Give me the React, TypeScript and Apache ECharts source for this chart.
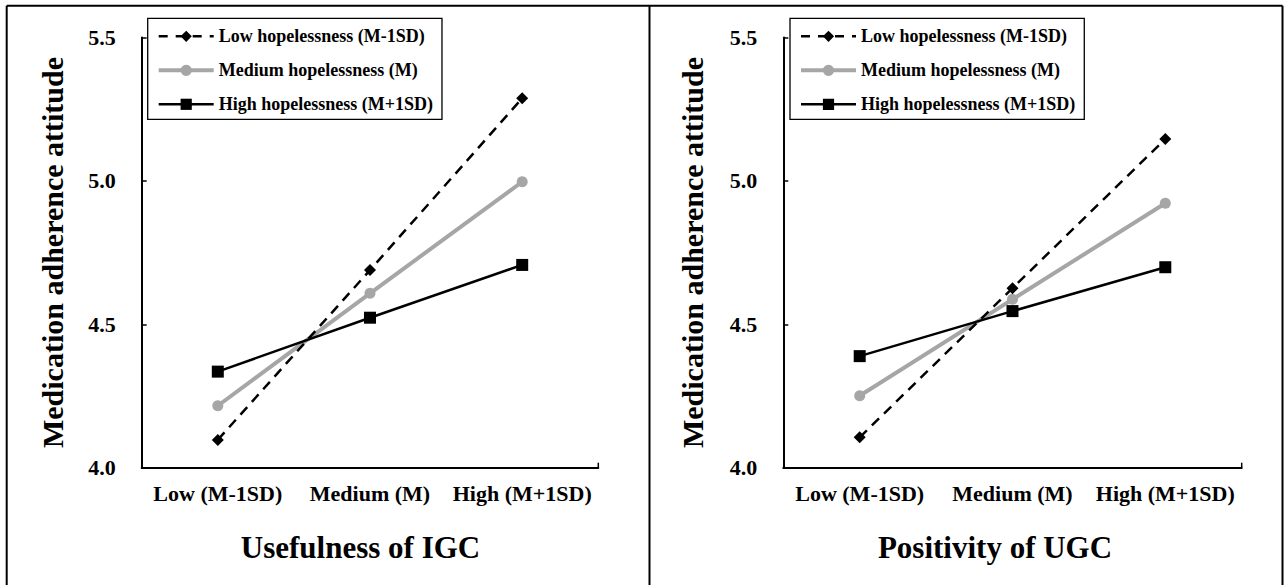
import React, { useEffect, useRef } from "react";
import * as echarts from "echarts";

const categories = ["Low (M-1SD)", "Medium (M)", "High (M+1SD)"];
const seriesNames = [
  "Low hopelessness (M-1SD)",
  "Medium hopelessness (M)",
  "High hopelessness (M+1SD)",
];
const yMin = 4.0;
const yMax = 5.5;
const yStep = 0.5;

// Left panel: Usefulness of IGC
const igcLow = [4.097, 4.689, 5.288];
const igcMedium = [4.216, 4.608, 4.997];
const igcHigh = [4.335, 4.523, 4.707];
// Right panel: Positivity of UGC
const ugcLow = [4.106, 4.626, 5.146];
const ugcMedium = [4.251, 4.587, 4.922];
const ugcHigh = [4.389, 4.546, 4.699];

const xTitles = ["Usefulness of IGC", "Positivity of UGC"];
const yTitle = "Medication adherence attitude";

const FONT = "'Liberation Serif', 'Times New Roman', serif";

export default function App() {
  const ref = useRef<HTMLDivElement>(null);

  useEffect(() => {
    document.body.style.margin = "0";
    if (!ref.current) return;
    const chart = echarts.init(ref.current, null, { renderer: "svg" });

    const grids = [
      { left: 141.7, top: 37.5, width: 456.6, height: 430.2 },
      { left: 783.3, top: 37.5, width: 458.4, height: 430.2 },
    ];

    const xAxes = grids.map((g, i) => ({
      type: "category",
      gridIndex: i,
      data: categories,
      boundaryGap: true,
      axisLine: { lineStyle: { color: "#000", width: 2 } },
      axisTick: { inside: true, length: 5, alignWithLabel: true, lineStyle: { color: "#000", width: 1.5 } },
      axisLabel: {
        color: "#000",
        fontFamily: FONT,
        fontWeight: "bold",
        fontSize: 22,
        margin: 15,
        interval: 0,
      },
      splitLine: { show: false },
    }));

    const yAxes = grids.map((g, i) => ({
      type: "value",
      gridIndex: i,
      min: yMin,
      max: yMax,
      interval: yStep,
      axisLine: { show: true, lineStyle: { color: "#000", width: 2 } },
      axisTick: { show: true, inside: true, length: 5, lineStyle: { color: "#000", width: 1.5 } },
      axisLabel: {
        color: "#000",
        fontFamily: FONT,
        fontWeight: "bold",
        fontSize: 22,
        margin: 26,
        formatter: (v: number) => v.toFixed(1),
      },
      splitLine: { show: false },
    }));

    const panelData = [
      [igcLow, igcMedium, igcHigh],
      [ugcLow, ugcMedium, ugcHigh],
    ];

    const styles = [
      { symbol: "diamond", symbolSize: 12, lineStyle: { color: "#000", width: 2.5, type: [10, 7] }, color: "#000", z: 3 },
      { symbol: "circle", symbolSize: 11, lineStyle: { color: "#a6a6a6", width: 4 }, color: "#a6a6a6", z: 2 },
      { symbol: "rect", symbolSize: 12, lineStyle: { color: "#000", width: 2.5 }, color: "#000", z: 4 },
    ];

    const series: any[] = [];
    panelData.forEach((sets, p) => {
      sets.forEach((vals, k) => {
        const s = styles[k];
        series.push({
          name: seriesNames[k],
          type: "line",
          xAxisIndex: p,
          yAxisIndex: p,
          data: vals,
          symbol: s.symbol,
          symbolSize: s.symbolSize,
          lineStyle: s.lineStyle,
          itemStyle: { color: s.color },
          z: s.z,
        });
      });
    });

    const legendData = seriesNames.map((name, k) => ({
      name,
      lineStyle: {
        color: styles[k].lineStyle.color,
        width: k === 1 ? 4 : 2.5,
        type: k === 0 ? [9, 8] : "solid",
      },
    }));

    const legendBase = {
      orient: "vertical",
      top: 18.3,
      padding: [7, 9, 4, 9],
      itemGap: 12,
      itemWidth: 55,
      itemHeight: 14,
      borderColor: "#000",
      borderWidth: 1.3,
      backgroundColor: "#fff",
      textStyle: { fontFamily: FONT, fontWeight: "bold", fontSize: 18, color: "#000", lineHeight: 22 },
      data: legendData,
      selectedMode: false,
    };

    const frame = { stroke: "#000", lineWidth: 2 };
    const graphic: any[] = [
      { type: "line", shape: { x1: 6.7, y1: 5.7, x2: 1282.5, y2: 5.7 }, style: frame, silent: true },
      { type: "line", shape: { x1: 6.7, y1: 5.7, x2: 6.7, y2: 600 }, style: frame, silent: true },
      { type: "line", shape: { x1: 649.5, y1: 5.7, x2: 649.5, y2: 600 }, style: frame, silent: true },
      { type: "line", shape: { x1: 1282.5, y1: 5.7, x2: 1282.5, y2: 600 }, style: frame, silent: true },
    ];
    grids.forEach((g, i) => {
      const xe = g.left + g.width;
      const yb = g.top + g.height;
      graphic.push({
        type: "line",
        shape: { x1: xe, y1: yb - 5, x2: xe, y2: yb },
        style: { stroke: "#000", lineWidth: 1.5 },
        silent: true,
      });
      graphic.push({
        type: "text",
        x: i === 0 ? 360.5 : 995,
        y: 547,
        style: {
          text: xTitles[i],
          font: `bold 31px ${FONT}`,
          fill: "#000",
          align: "center",
          verticalAlign: "middle",
          textAlign: "center",
          textVerticalAlign: "middle",
        },
        silent: true,
      });
      graphic.push({
        type: "text",
        x: i === 0 ? 52 : 692,
        y: 252.5,
        rotation: Math.PI / 2,
        style: {
          text: yTitle,
          font: `bold 30px ${FONT}`,
          fill: "#000",
          align: "center",
          verticalAlign: "middle",
          textAlign: "center",
          textVerticalAlign: "middle",
        },
        silent: true,
      });
    });

    chart.setOption({
      animation: false,
      backgroundColor: "#fff",
      grid: grids,
      xAxis: xAxes,
      yAxis: yAxes,
      legend: [
        { ...legendBase, left: 147.7 },
        { ...legendBase, left: 790 },
      ],
      series,
      graphic,
    });

    return () => chart.dispose();
  }, []);

  return <div ref={ref} style={{ width: 1288, height: 585 }} />;
}
